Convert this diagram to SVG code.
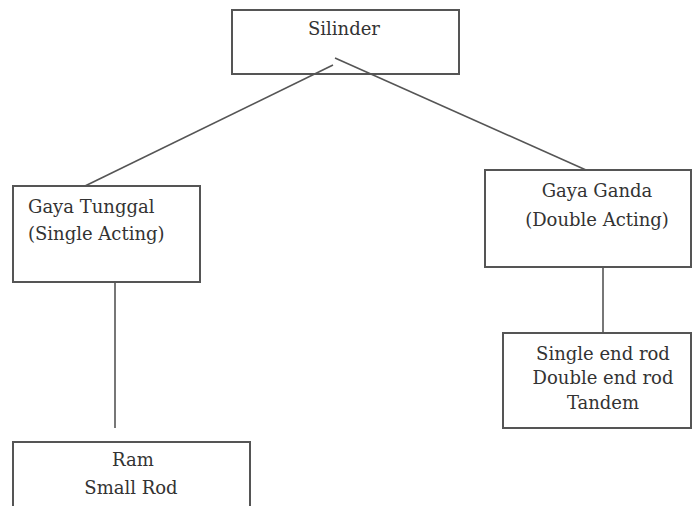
<svg xmlns="http://www.w3.org/2000/svg" width="693" height="506" viewBox="0 0 693 506">
<style>
.box{fill:#fff;stroke:#555;stroke-width:2}
.ln{stroke:#555;stroke-width:1.6;fill:none}
.t{font-family:"DejaVu Serif","Liberation Serif",serif;font-size:18px;fill:#333}
.c{text-anchor:middle}
</style>
<rect width="693" height="506" fill="#fff"/>
<g id="silinder">
<rect class="box" x="232" y="10" width="227" height="64"/>
<text class="t c" x="344" y="35">Silinder</text>
</g>
<g id="gaya-tunggal">
<rect class="box" x="13" y="186" width="187" height="96"/>
<text class="t" x="28" y="213">Gaya Tunggal</text>
<text class="t" x="28" y="240">(Single Acting)</text>
</g>
<g id="gaya-ganda">
<rect class="box" x="485" y="170" width="206" height="97"/>
<text class="t c" x="597" y="197">Gaya Ganda</text>
<text class="t c" x="597" y="226">(Double Acting)</text>
</g>
<g id="double-types">
<rect class="box" x="503" y="333" width="188" height="95"/>
<text class="t c" x="603" y="360">Single end rod</text>
<text class="t c" x="603" y="384">Double end rod</text>
<text class="t c" x="603" y="409">Tandem</text>
</g>
<g id="single-types">
<rect class="box" x="13" y="442" width="237" height="68"/>
<text class="t c" x="133" y="466">Ram</text>
<text class="t c" x="131" y="494">Small Rod</text>
</g>
<g id="connectors">
<line class="ln" x1="335" y1="58" x2="586" y2="170"/>
<line class="ln" x1="333" y1="65" x2="85" y2="186"/>
<line class="ln" x1="115" y1="283" x2="115" y2="428"/>
<line class="ln" x1="603" y1="268" x2="603" y2="333"/>
</g>
</svg>
